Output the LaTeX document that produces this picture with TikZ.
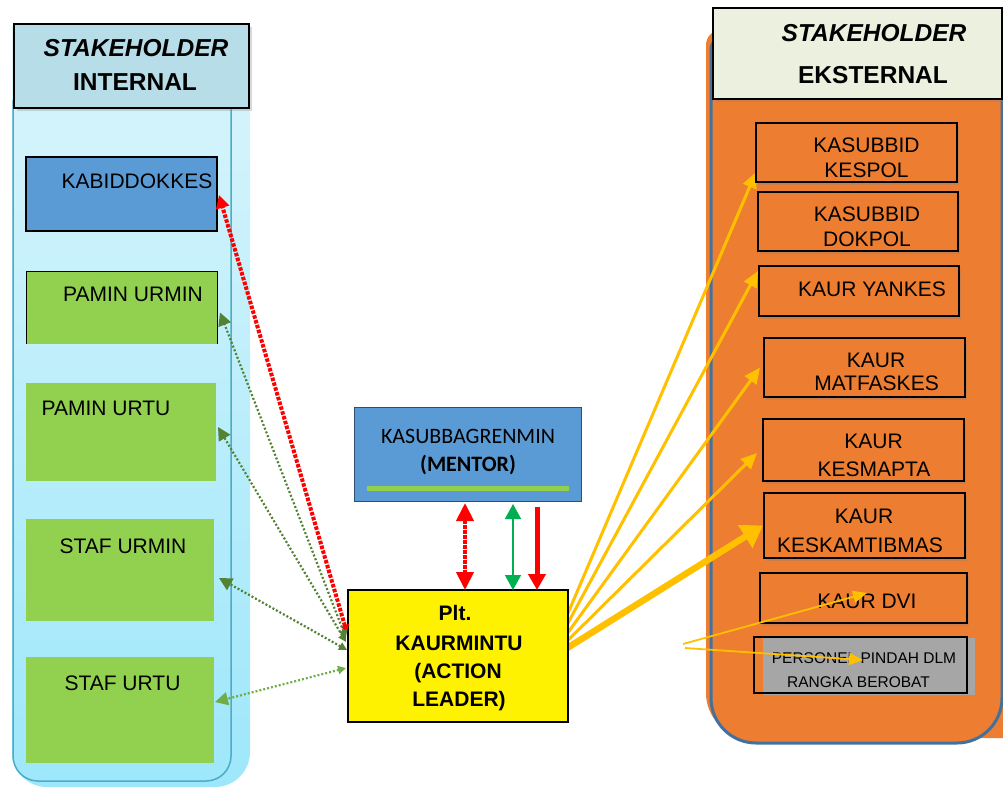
\documentclass[tikz,border=0pt]{standalone}
\usepackage{fontspec}
\setmainfont{Liberation Sans}
\newfontfamily\mentorfont{Carlito}
\usetikzlibrary{arrows.meta,shadows,calc,fit}
\pgfdeclarelayer{panels}
\pgfdeclarelayer{links}
\pgfsetlayers{panels,links,main}

\definecolor{intTop}{HTML}{DAF5FC}
\definecolor{intBot}{HTML}{9EE7FA}
\definecolor{intEdge}{HTML}{4BACC6}
\definecolor{intHead}{HTML}{B7DDE8}
\definecolor{extHead}{HTML}{EBF1DE}
\definecolor{steelblue}{HTML}{5B9BD5}
\definecolor{leafgreen}{HTML}{92D050}
\definecolor{extorange}{HTML}{ED7D31}
\definecolor{panelblue}{HTML}{41719C}
\definecolor{mentorEdge}{HTML}{2F4F6F}
\definecolor{ambery}{HTML}{FFC000}
\definecolor{moss}{HTML}{548235}
\definecolor{lightmoss}{HTML}{70AD47}
\definecolor{brightgreen}{HTML}{00B050}
\definecolor{greybox}{HTML}{A6A6A6}

\tikzset{
  area/.style={inner sep=0pt, outer sep=0pt},
  hdr/.style={area, draw=black, line width=1.5pt,
    drop shadow={shadow xshift=3pt, shadow yshift=-3pt, opacity=0.3}},
  ebox/.style={area, fill=extorange, draw=black, line width=1.3pt,
    drop shadow={shadow xshift=2pt, shadow yshift=-3pt, opacity=0.3}},
  htxt/.style={anchor=base, inner sep=0pt, font=\fontsize{24.5}{24.5}\selectfont\bfseries},
  txt/.style={anchor=base, inner sep=0pt, font=\fontsize{21}{21}\selectfont},
  btxt/.style={txt, font=\fontsize{21}{21}\selectfont\bfseries},
  stxt/.style={anchor=base, inner sep=0pt, font=\fontsize{15.5}{15.5}\selectfont},
  mtxt/.style={anchor=base, inner sep=0pt, font=\fontsize{22}{22}\selectfont\mentorfont},
  redlink/.style={draw=red, line width=4pt, dash pattern=on 3.5pt off 1.5pt},
  greenlink/.style={draw=moss, line width=2.2pt, dash pattern=on 2pt off 2pt},
  twohead/.style={{Triangle[length=8pt,width=8pt]}-{Triangle[length=13pt,width=13pt]}},
  yarrow/.style={draw=ambery, line width=3pt, -{Triangle[length=16pt,width=14pt]}},
  ythin/.style={draw=ambery, line width=1.8pt, -{Triangle[length=14pt,width=12pt]}}
}

\begin{document}
\begin{tikzpicture}[x=1pt,y=-1pt]
\useasboundingbox (0,0) rectangle (1003,787);

% ---------- panels ----------
\begin{pgfonlayer}{panels}
  % internal stakeholders column
  \shade[top color=intTop, bottom color=intBot]
    (12,25) -- (12,752) arc[start angle=180,end angle=90,radius=35]
    -- (215,787) arc[start angle=90,end angle=0,radius=35] -- (250,25) -- cycle;
  \draw[intEdge, line width=1.5pt]
    (13,100) -- (13,756) arc[start angle=180,end angle=90,radius=25]
    -- (206,781) arc[start angle=90,end angle=0,radius=25] -- (231,100);
  % external stakeholders column
  \fill[extorange]
    (706,45) arc[start angle=180,end angle=270,radius=15] -- (1003,30)
    -- (1003,738) -- (751,738) arc[start angle=90,end angle=180,radius=45] -- cycle;
  \filldraw[fill=extorange, draw=panelblue, line width=3pt]
    (711,50) arc[start angle=180,end angle=270,radius=15] -- (1002,35)
    -- (1002,698) arc[start angle=0,end angle=90,radius=45]
    -- (756,743) arc[start angle=90,end angle=180,radius=45] -- cycle;
\end{pgfonlayer}

% ---------- headers ----------
\node[hdr, fill=intHead, fit={(14,24) (249,108)}] (ihd) {};
\node[htxt] (ihd1) at (136,56) {\itshape STAKEHOLDER};
\node[htxt] (ihd2) at (135,90) {INTERNAL};

\node[hdr, fill=extHead, fit={(713,8) (1002,99)}] (ehd) {};
\node[htxt] (ehd1) at (874,41) {\itshape STAKEHOLDER};
\node[htxt] (ehd2) at (873,83) {EKSTERNAL};

% ---------- internal boxes ----------
\node[area, fill=steelblue, draw=black, line width=1.3pt, fit={(26,157) (217,231)}] (kab) {};
\node[txt] (kabT) at (137,188) {KABIDDOKKES};

\node[area, fill=leafgreen, fit={(26,271) (217,344)}] (pum) {};
\draw[line width=0.8pt] (pum.south west) -- (pum.north west) -- (pum.north east) -- (pum.south east);
\node[txt] (pumT) at (133,301.5) {PAMIN URMIN};

\node[area, fill=leafgreen, fit={(26,383) (216,481)}] (put) {};
\node[txt] (putT) at (106,415) {PAMIN URTU};

\node[area, fill=leafgreen, fit={(26,519) (214,621)}] (sum) {};
\node[txt] (sumT) at (123,553) {STAF URMIN};

\node[area, fill=leafgreen, fit={(26,657) (214,763)}] (su) {};
\node[txt] (suT) at (122.5,690) {STAF URTU};

% ---------- mentor and action leader ----------
\node[area, fill=steelblue, draw=mentorEdge, line width=1pt, fit={(354,407) (581,501)}] (men) {};
\node[mtxt] (menT1) at (468,443) {KASUBBAGRENMIN};
\node[mtxt] (menT2) at (468,471.5) {\bfseries (MENTOR)};
\draw[leafgreen, line width=5pt] ($(men.south west)+(13,-13)$) -- ($(men.south east)+(-12,-13)$);

\node[area, fill=yellow, draw=black, line width=1.5pt, fit={(348,590) (568,722)}] (al) {};
\node[btxt] (alT1) at (455,620.5) {Plt.};
\node[btxt] (alT2) at (459,650) {KAURMINTU};
\node[btxt] (alT3) at (458,678) {(ACTION};
\node[btxt] (alT4) at (459,706.5) {LEADER)};

% ---------- external boxes ----------
\node[ebox, fit={(756,123) (957,182)}] (kes) {};
\node[txt] (kesT1) at (866.5,152) {KASUBBID};
\node[txt] (kesT2) at (866.5,177) {KESPOL};

\node[ebox, fit={(758,192) (958,251)}] (dok) {};
\node[txt] (dokT1) at (867,221) {KASUBBID};
\node[txt] (dokT2) at (867,246) {DOKPOL};

\node[ebox, fit={(759,266) (959,316)}] (yan) {};
\node[txt] (yanT) at (872,296) {KAUR YANKES};

\node[ebox, fit={(764,338) (965,397)}] (mat) {};
\node[txt] (matT1) at (876,367) {KAUR};
\node[txt] (matT2) at (876.5,390) {MATFASKES};

\node[ebox, fit={(763,419) (964,481)}] (ksm) {};
\node[txt] (ksmT1) at (873.5,448) {KAUR};
\node[txt] (ksmT2) at (874,476) {KESMAPTA};

\node[ebox, fit={(764,493) (965,558)}] (ksk) {};
\node[txt] (kskT1) at (864,523) {KAUR};
\node[txt] (kskT2) at (860,552) {KESKAMTIBMAS};

\node[ebox, fit={(760,573) (967,623)}] (dvi) {};
\node[txt] (dviT) at (867,608) {KAUR DVI};

\node[area, fill=greybox, fit={(763,638) (975,695)}] (persfill) {};
\node[area, draw=black, line width=1.5pt, fit={(754,637) (967,693)}] (pers) {};
\node[stxt] (persT1) at (864,663) {PERSONEL PINDAH DLM};
\node[stxt] (persT2) at (858.5,687) {RANGKA BEROBAT};

% ---------- links: action leader to internal stakeholders ----------
\draw[redlink, twohead] ($(al.west)+(-1,-23)$) -- ($(kab.east)+(2,1)$);
\draw[greenlink, twohead] ($(al.west)+(-2,-18)$) -- ($(pum.east)+(3,5)$);
\draw[greenlink, twohead] ($(al.west)+(-2,-14)$) -- ($(put.east)+(2,-5)$);
\draw[greenlink, twohead] ($(al.west)+(-1,-6)$) -- ($(sum.east)+(5,8)$);
\draw[greenlink, draw=lightmoss, twohead] ($(al.west)+(-2,12)$) -- ($(su.east)+(1,-8)$);

% ---------- links: mentor and action leader ----------
\coordinate (m1) at ($(men.south)+(-2.5,2)$);
\coordinate (m2) at ($(men.south)+(45.5,3)$);
\coordinate (m3) at ($(men.south)+(69.5,6)$);
\draw[redlink, {Triangle[length=18pt,width=17pt]}-{Triangle[length=18pt,width=17pt]}]
  (m1) -- (m1 |- al.north);
\draw[draw=brightgreen, line width=1.5pt, {Triangle[length=15pt,width=16pt]}-{Triangle[length=15pt,width=16pt]}]
  (m2) -- (m2 |- al.north);
\draw[draw=red, line width=5pt, -{Triangle[length=16pt,width=17pt]}]
  (m3) -- (m3 |- al.north);

% ---------- links: action leader to external stakeholders ----------
\begin{pgfonlayer}{links}
  \coordinate (yo) at ($(al.east)+(-20,4)$);
  \draw[yarrow] (yo) -- ($(kes.south west)+(0,-10)$);
  \draw[yarrow] (yo) -- ($(yan.north west)+(-1,5)$);
  \draw[yarrow] (yo) -- ($(mat.west)+(-4,0)$);
  \draw[yarrow] (yo) -- ($(ksm.west)+(-6,3)$);
  \draw[draw=ambery, line width=6.5pt, -{Triangle[length=21pt,width=26pt]}] (yo) -- ($(ksk.west)+(-1,0)$);
\end{pgfonlayer}

% loose arrows into the lower external boxes
\coordinate (d0) at (683,644);
\coordinate (p0) at (685,648);
\draw[ythin] (d0) -- ($(dvi.center)+(3.5,-5)$);
\draw[ythin] (p0) -- ($(pers.center)+(2.5,-5)$);

\end{tikzpicture}
\end{document}
